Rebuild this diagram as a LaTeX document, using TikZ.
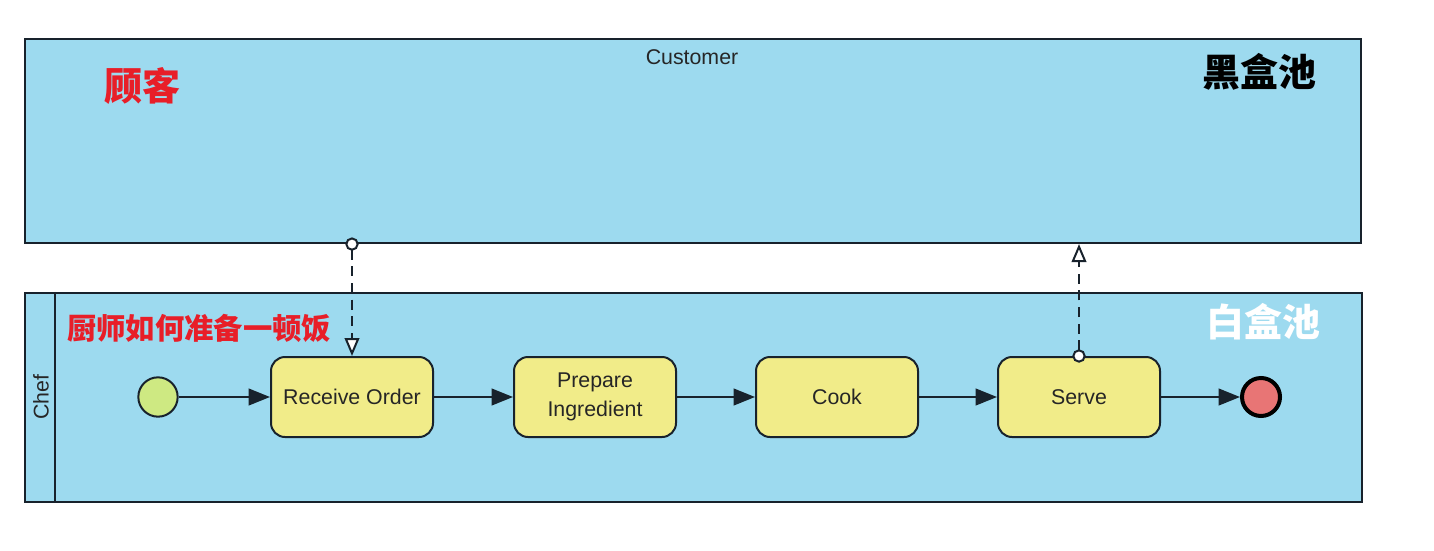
\documentclass[tikz,border=0pt]{standalone}
\usepackage{fontspec}
\setmainfont{Liberation Sans}
\newfontfamily\cjk{Noto Sans CJK SC}
\usepackage{tikz}
\usetikzlibrary{positioning,fit,arrows.meta}

\definecolor{poolblue}{RGB}{157,218,239}
\definecolor{taskyellow}{RGB}{241,236,137}
\definecolor{startgreen}{RGB}{206,233,130}
\definecolor{endred}{RGB}{232,117,117}
\definecolor{edge}{RGB}{24,34,44}
\definecolor{notered}{RGB}{232,30,40}

\begin{document}
\begin{tikzpicture}[x=0.75pt, y=-0.75pt,
    pool/.style={draw=edge, line width=1.6pt, fill=poolblue, inner sep=0pt},
    task/.style={draw=edge, line width=1.5pt, fill=taskyellow, rounded corners=10.5pt,
        minimum width=121.5pt, minimum height=60pt, align=center, text=black!85,
        font=\fontsize{16}{21.5}\selectfont},
    flow/.style={-{Triangle[length=16pt,width=12.5pt]}, line width=1.5pt, draw=edge},
    msg/.style={{Circle[length=10pt,fill=white]}-{Triangle[length=13.5pt,width=11pt,fill=white]},
        line width=1.5pt, draw=edge, dash pattern=on 7.5pt off 5pt, shorten <=-5pt},
    note/.style={font=\cjk\bfseries\fontsize{28.5}{30}\selectfont}]
    \useasboundingbox (0,0) rectangle (1434,550);

    % Pools
    \node[pool, fit={(25,39) (1361,243)}] (customer) {};
    \node[pool, fit={(25,293) (1362,502)}] (chef) {};
    \draw[line width=1.6pt, draw=edge] ([xshift=23.25pt]chef.north west) -- ([xshift=23.25pt]chef.south west);
    \node[text=black!85, font=\fontsize{16}{18}\selectfont] (custlbl) at (692,57) {Customer};
    \node[rotate=90, text=black!85, font=\fontsize{16}{18}\selectfont] (cheflbl) at (41,397) {Chef};

    % Notes
    \node[note, text=notered] (custnote) at (142,86) {顾客};
    \node[note, text=black] (blacknote) at (1259,72) {黑盒池};
    \node[note, text=white] (whitenote) at (1263,322) {白盒池};
    \node[note, text=notered, font=\cjk\bfseries\fontsize{22}{24}\selectfont] (chefnote) at (199,328) {厨师如何准备一顿饭};

    % Events and tasks
    \node[circle, draw=edge, line width=1.5pt, fill=startgreen, minimum size=29.5pt, inner sep=0pt] (start) at (158,397) {};
    \node[task] (rcv) at (352,397) {Receive Order};
    \node[task] (prep) at (595,397) {Prepare\\Ingredient};
    \node[task] (cook) at (837,397) {Cook};
    \node[task] (serve) at (1079,397) {Serve};
    \node[circle, draw=black, line width=3pt, fill=endred, minimum size=28.5pt, inner sep=0pt] (end) at (1261,397) {};

    % Sequence flows
    \draw[flow] (start) -- (rcv);
    \draw[flow] (rcv) -- (prep);
    \draw[flow] (prep) -- (cook);
    \draw[flow] (cook) -- (serve);
    \draw[flow] (serve) -- (end);

    % Message flows
    \draw[msg] (rcv.north |- customer.south) -- (rcv.north);
    \draw[msg] (serve.north) -- (serve.north |- customer.south);
\end{tikzpicture}
\end{document}
